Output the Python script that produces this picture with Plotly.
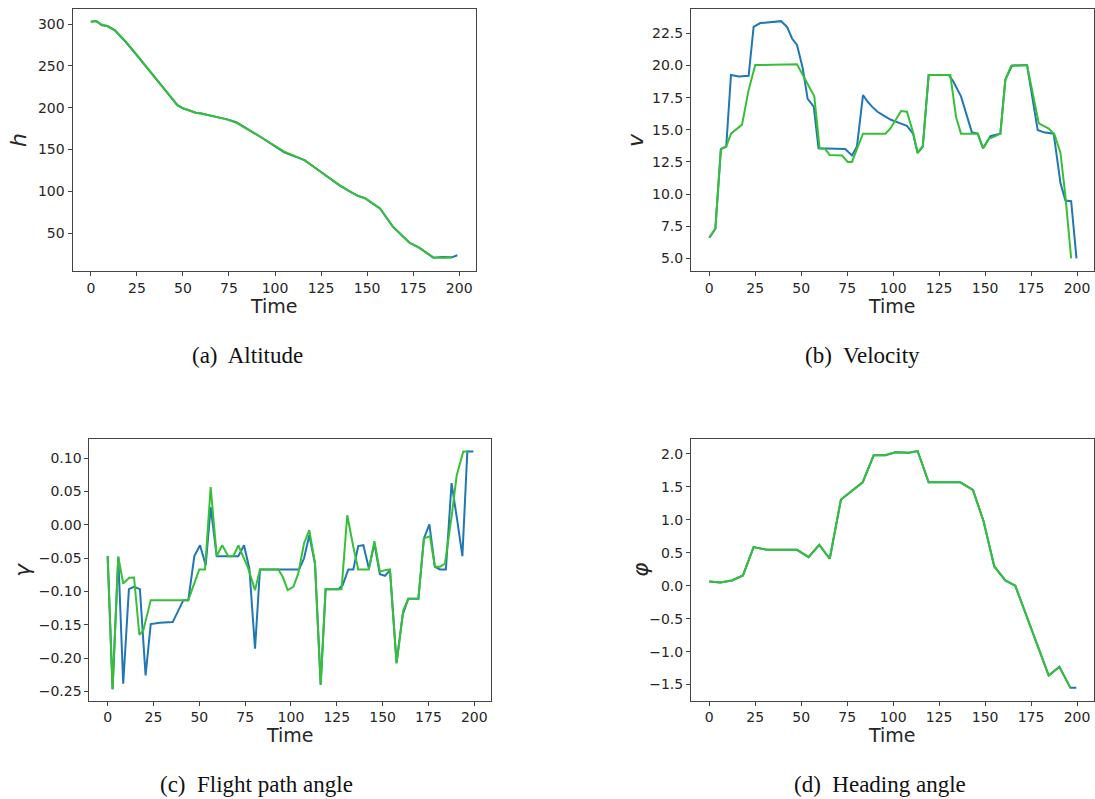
import plotly.graph_objects as go

W, H = 1095, 799

# ---------------- data ----------------
# (a) Altitude
t_alt_blue = [0, 3, 6, 9, 13, 19, 25, 36, 47, 50, 57, 60, 74, 79, 92, 105, 110, 116, 121, 130, 135, 141, 145, 149, 157, 164, 173, 178, 186, 191, 196, 199]
h_blue = [302.8, 303.5, 298.5, 297.6, 292.5, 278.5, 262.5, 233, 203, 199.2, 193.9, 193.1, 186, 182.5, 165.2, 146.5, 142, 137.3, 129.3, 114.5, 107, 99.4, 94.6, 91.5, 79.5, 57.6, 38.4, 32.9, 20.5, 21.5, 21.0, 23.5]
t_alt_green = [0, 3, 6, 9, 13, 19, 25, 36, 47, 50, 57, 60, 74, 79, 92, 105, 110, 116, 121, 130, 135, 141, 145, 149, 157, 164, 173, 178, 186, 191, 196]
h_green = [302.8, 303.5, 299, 297.6, 292.8, 279, 263, 233, 203, 199.2, 193.9, 193.1, 186, 182, 165.2, 147.3, 142.5, 137.3, 129.3, 115.4, 107.4, 99.4, 94.6, 91.5, 79.5, 57.6, 38.4, 32.9, 20.9, 20.5, 20.9]

# (b) Velocity
t_vel_blue = [0, 3.3, 6.3, 9.2, 11.8, 16, 21.4, 24.1, 27.7, 33.2, 39, 42.3, 45, 47.7, 50.8, 53.5, 56.8, 59.4, 73.9, 77.6,
              80.3, 83.6, 86, 88.5, 91.5, 94.9, 98.5, 102.1, 107.5, 110.8, 113.3, 116.1, 119.3, 130.2, 132.8, 136.9, 142.8, 146,
              148.9, 152.9, 158.3, 161, 164.7, 172.8, 178.6, 181.9, 187.3, 191, 193.7, 196.8, 199.7]
v_blue = [6.6, 7.3, 13.5, 13.7, 19.26, 19.15, 19.2, 23.0, 23.3, 23.4, 23.45, 23.0, 22.1, 21.6, 19.8, 17.4, 16.8, 13.56, 13.5, 13.0,
          13.7, 17.7, 17.2, 16.8, 16.4, 16.1, 15.8, 15.6, 15.3, 14.7, 13.2, 13.7, 19.26, 19.26, 18.74, 17.6, 14.8, 14.7,
          13.56, 14.5, 14.7, 18.9, 20.0, 20.03, 14.98, 14.8, 14.7, 10.84, 9.5, 9.45, 5.0]
t_vel_green = [0, 3.3, 6.3, 9.2, 11.8, 17.8, 21.4, 25, 47.7, 51.3, 57.1, 60, 63.1, 65.5, 72.2, 75.3, 77.6, 80, 83.6, 95.8,
               98.5, 104.3, 107.5, 110.8, 113.3, 116.1, 119.3, 131.1, 134.2, 136.9, 146, 148.9, 152, 155.6, 158.3, 161,
               164.1, 172.8, 179.2, 184.6, 187.7, 191, 193.7, 196.8]
v_green = [6.6, 7.3, 13.5, 13.7, 14.7, 15.4, 18.1, 20.03, 20.1, 19.1, 17.6, 13.56, 13.5, 13.04, 13.0, 12.5, 12.5, 13.4, 14.7, 14.7,
           15.1, 16.46, 16.4, 14.8, 13.2, 13.7, 19.26, 19.26, 16.0, 14.7, 14.7, 13.56, 14.3, 14.5, 14.7, 18.87,
           19.96, 20.03, 15.5, 15.1, 14.65, 13.2, 9.8, 5.0]

# (c) Flight path angle
t_gam_blue = [0, 2.7, 5.8, 8.5, 11.6, 14.4, 17.6, 20.7, 23.5, 28.5, 35.5, 41.3, 44, 47.3, 50.4, 53.5, 56.2, 59.5, 71.3, 74.4,
              77.3, 80.4, 83.1, 104.4, 107.1, 110, 113.1, 116.2, 118.9, 125.8, 128.2, 131.3, 134, 136.7, 139.5, 142.5, 145.5,
              148.5, 151.3, 154, 157.6, 160.9, 164, 169.5, 172.5, 175.5, 178.5, 181.3, 184.5, 187.6, 190.7, 193.5, 196.2, 199.5]
g_blue = [-0.047, -0.2465, -0.048, -0.2385, -0.0965, -0.093, -0.0965, -0.226, -0.149, -0.147, -0.146, -0.113, -0.113, -0.047,
          -0.0306, -0.0605, 0.0267, -0.047, -0.047, -0.0306, -0.0655, -0.186, -0.067, -0.067, -0.0506, -0.0157, -0.058, -0.240,
          -0.0965, -0.0965, -0.0905, -0.067, -0.067, -0.032, -0.0306, -0.0655, -0.028, -0.074, -0.0765, -0.068, -0.2076,
          -0.1353, -0.111, -0.111, -0.0207, 0.0008, -0.063, -0.067, -0.067, 0.0626, 0.0068, -0.047, 0.11, 0.11]
t_gam_green = [0, 2.7, 5.8, 8.5, 11.8, 14.4, 17.3, 19.5, 23.5, 44, 50, 53.1, 56.2, 59.5, 62.5, 65.8, 68.5, 71.3, 74, 76.7,
               80.4, 83.1, 93.1, 95.5, 98.2, 101.3, 104, 107.1, 110, 113.1, 116.2, 118.9, 127.6, 130.7, 134, 136.7, 142.5,
               145.5, 148.5, 151.3, 154, 157.6, 161.3, 164, 169.5, 172.5, 175.8, 178.5, 181.3, 184, 187.6, 190.4, 194, 196.7]
g_green = [-0.047, -0.2465, -0.048, -0.088, -0.0795, -0.079, -0.165, -0.158, -0.113, -0.113, -0.067, -0.067, 0.0566, -0.047,
           -0.0306, -0.047, -0.047, -0.031, -0.048, -0.0655, -0.098, -0.067, -0.067, -0.078, -0.098, -0.093, -0.073, -0.028,
           -0.008, -0.058, -0.240, -0.0965, -0.0965, 0.0143, -0.033, -0.067, -0.067, -0.0247, -0.0705, -0.068, -0.067,
           -0.2076, -0.128, -0.111, -0.111, -0.0207, -0.017, -0.063, -0.063, -0.058, 0.0118, 0.074, 0.110, 0.110]

# (d) Heading angle
t_head_blue = [0, 6, 12.3, 18.3, 24.1, 31.4, 47.7, 54, 59.8, 65.5, 71.6, 77.6, 83.4, 89.4, 95.7, 101.2, 108.4, 113.3, 119.3,
               136.5, 143.4, 149.2, 155, 161, 166.4, 184.6, 190.4, 196.4, 199.6]
phi_blue = [0.066, 0.05, 0.08, 0.157, 0.586, 0.545, 0.545, 0.434, 0.62, 0.41, 1.31, 1.44, 1.57, 1.98, 1.98, 2.025, 2.02, 2.045,
            1.57, 1.57, 1.455, 0.975, 0.293, 0.08, 0.0, -1.364, -1.23, -1.55, -1.55]
t_head_green = [0, 6, 12.3, 18.3, 24.1, 31.4, 47.7, 54, 59.8, 65.5, 71.6, 77.6, 83.4, 89.4, 95.7, 101.2, 108.4, 113.3, 119.3,
                136.5, 143.4, 149.2, 155, 161, 166.4, 184.6, 190.4, 196.4]
phi_green = [0.066, 0.05, 0.08, 0.157, 0.586, 0.545, 0.545, 0.434, 0.62, 0.41, 1.31, 1.44, 1.57, 1.98, 1.98, 2.025, 2.02, 2.045,
             1.57, 1.57, 1.455, 0.975, 0.293, 0.08, 0.0, -1.364, -1.23, -1.55]

x_ticks = [0, 25, 50, 75, 100, 125, 150, 175, 200]
y_labels = ["h", "v", "γ", "φ"]
captions = ["(a)  Altitude", "(b)  Velocity", "(c)  Flight path angle", "(d)  Heading angle"]
x_title = "Time"

# ---------------- layout helpers ----------------
BLUE = "#1f77b4"
GREEN = "#35c035"
AX = "#444444"
TXT = "#262626"


def px_x(p):
    return p / W


def px_y(p):
    return 1 - p / H


# panel frames in pixels: (left, top, right, bottom)
frames = [(72.5, 9.3, 475.7, 270.7), (691, 9.3, 1093.5, 270.7),
          (89.4, 439.3, 490.7, 700.5), (691, 439.3, 1093.5, 700.5)]
y_ranges = [[5.0, 317.6], [4.04, 24.37], [-0.2636, 0.1283], [-1.742, 2.223]]
y_dticks = [(50, 50, None), (5.0, 2.5, ".1f"), (-0.25, 0.05, ".2f"), (-1.5, 0.5, ".1f")]

series = [
    ((t_alt_blue, h_blue), (t_alt_green, h_green)),
    ((t_vel_blue, v_blue), (t_vel_green, v_green)),
    ((t_gam_blue, g_blue), (t_gam_green, g_green)),
    ((t_head_blue, phi_blue), (t_head_green, phi_green)),
]

fig = go.Figure()
layout = dict(width=W, height=H, margin=dict(l=0, r=0, t=0, b=0),
              paper_bgcolor="white", plot_bgcolor="white", showlegend=False)

for i, ((tb, yb), (tg, yg)) in enumerate(series):
    n = "" if i == 0 else str(i + 1)
    fig.add_trace(go.Scatter(x=tb, y=yb, mode="lines", line=dict(color=BLUE, width=2),
                             xaxis="x" + n, yaxis="y" + n))
    fig.add_trace(go.Scatter(x=tg, y=yg, mode="lines", line=dict(color=GREEN, width=2),
                             xaxis="x" + n, yaxis="y" + n))
    l, t, r, b = frames[i]
    tick0, dtick, fmt = y_dticks[i]
    common = dict(showline=True, linecolor=AX, linewidth=1, mirror=True, showgrid=False, zeroline=False,
                  ticks="outside", ticklen=4, tickwidth=1, tickcolor=AX,
                  tickfont=dict(family="DejaVu Sans", size=14, color=TXT))
    layout["xaxis" + n] = dict(domain=[px_x(l), px_x(r)], range=[-9.95, 208.95], anchor="y" + n,
                               tickmode="array", tickvals=x_ticks, **common)
    yax = dict(domain=[px_y(b), px_y(t)], range=y_ranges[i], anchor="x" + n,
               tick0=tick0, dtick=dtick, **common)
    if fmt:
        yax["tickformat"] = fmt
    layout["yaxis" + n] = yax

fig.update_layout(**layout)

# axis titles, y labels, captions
ann = []
time_pos = [(274, 306), (892, 306), (290, 735), (892, 735)]
ylab_pos = [(18, 140), (635, 140), (22, 570), (640, 570)]
cap_pos = [(247, 355), (862, 355), (256, 784), (880, 784)]
for i in range(4):
    ann.append(dict(text=x_title, x=px_x(time_pos[i][0]), y=px_y(time_pos[i][1]), xref="paper", yref="paper",
                    showarrow=False, xanchor="center", yanchor="middle",
                    font=dict(family="DejaVu Sans", size=19, color=TXT)))
    ann.append(dict(text="<i>" + y_labels[i] + "</i>", x=px_x(ylab_pos[i][0]), y=px_y(ylab_pos[i][1]),
                    xref="paper", yref="paper", showarrow=False, textangle=-90,
                    xanchor="center", yanchor="middle",
                    font=dict(family="DejaVu Sans", size=22, color=TXT)))
    ann.append(dict(text=captions[i], x=px_x(cap_pos[i][0]), y=px_y(cap_pos[i][1]), xref="paper", yref="paper",
                    showarrow=False, xanchor="center", yanchor="middle",
                    font=dict(family="Liberation Serif", size=23, color="#111111")))
fig.update_layout(annotations=ann)

fig.write_html("out.html")
